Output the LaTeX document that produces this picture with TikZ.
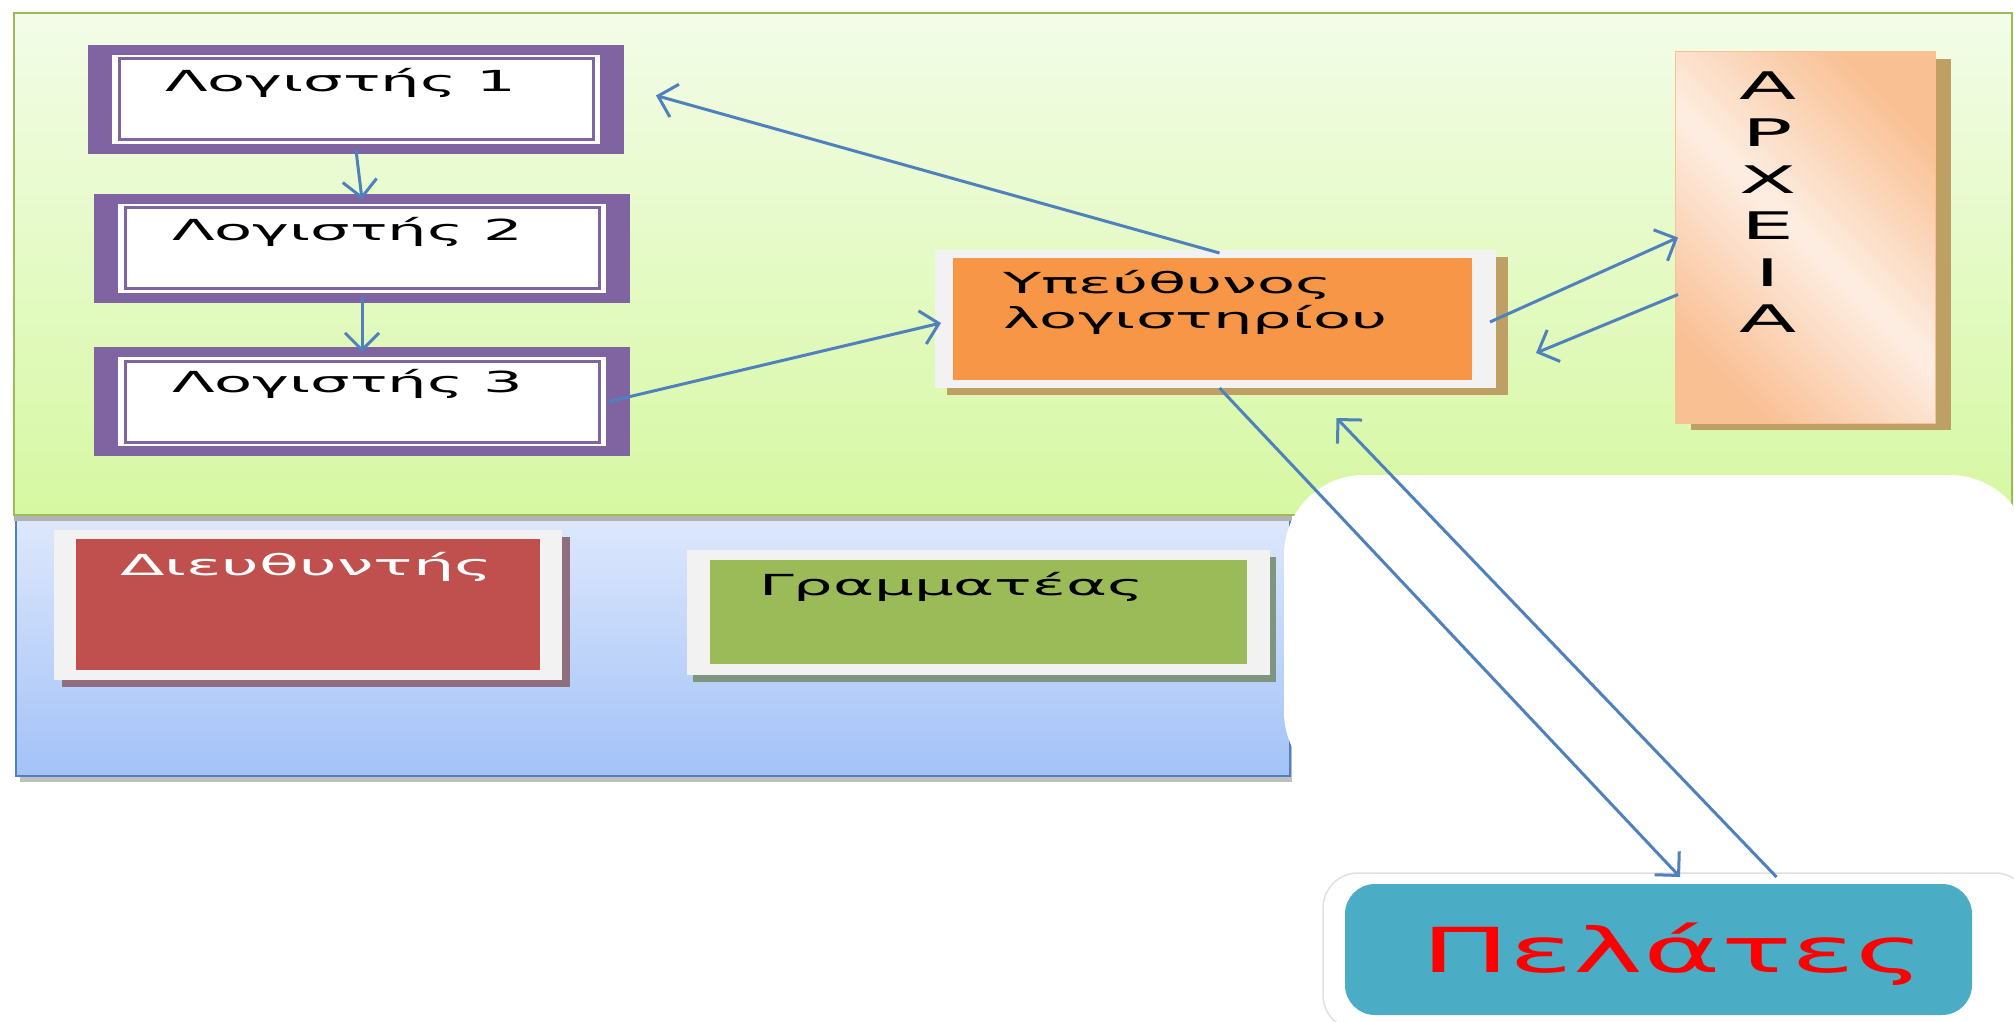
\documentclass[tikz,border=0pt]{standalone}
\usepackage{fontspec}
\setmainfont{DejaVu Sans}
\usepackage{graphicx}
\usetikzlibrary{arrows.meta,shadows}

\definecolor{grnB}{HTML}{9BBB59}
\definecolor{grnT}{HTML}{F3FCE8}
\definecolor{grnBot}{HTML}{D6F8A2}
\definecolor{bluT}{HTML}{DEE8FC}
\definecolor{bluBot}{HTML}{A3C2F7}
\definecolor{bluB}{HTML}{4F81BD}
\definecolor{purp}{HTML}{8064A2}
\definecolor{orng}{HTML}{F79646}
\definecolor{tanS}{HTML}{BFA064}
\definecolor{peachD}{HTML}{F9C094}
\definecolor{peachL}{HTML}{FDEEE2}
\definecolor{redd}{HTML}{C0504D}
\definecolor{olv}{HTML}{9BBB59}
\definecolor{frameC}{HTML}{F2F2F2}
\definecolor{tealC}{HTML}{4BACC6}
\definecolor{arrC}{HTML}{4F81BD}
\definecolor{mauveS}{HTML}{8F6E7E}
\definecolor{grayS}{HTML}{7E967F}

\newcommand\sx[2][2.15]{\scalebox{#1}[1]{#2}}

\tikzset{
  plain/.style={inner sep=0pt, outer sep=0pt},
  lbox/.style={plain, fill=purp, minimum width=536pt, minimum height=109pt,
    path picture={
      \fill[white] ([xshift=24pt,yshift=-10pt]path picture bounding box.north west)
        rectangle ([xshift=-24pt,yshift=10pt]path picture bounding box.south east);
      \draw[purp, line width=3pt] ([xshift=31pt,yshift=-14pt]path picture bounding box.north west)
        rectangle ([xshift=-31pt,yshift=14pt]path picture bounding box.south east);
    }},
  lbl/.style={plain, anchor=base west, font=\fontsize{29}{35}\selectfont},
  arr/.style={draw=arrC, line width=3pt, -{Straight Barb[length=17pt,width=34pt,line width=3pt]}},
}

\begin{document}
\begin{tikzpicture}[x=1pt,y=-1pt]
\useasboundingbox (0,0) rectangle (2014,1022);

% panels
\fill[black!25] (20,522) rectangle (1292,782);
\node[plain, top color=bluT, bottom color=bluBot, draw=bluB, line width=2pt,
  minimum width=1274pt, minimum height=260pt] (bp) at (653,646) {};
\fill[black!30] (14,515) rectangle (1292,521);
\node[plain, top color=grnT, bottom color=grnBot, draw=grnB, line width=2pt,
  minimum width=1998pt, minimum height=502pt] (gp) at (1013,264) {};

% white rounded shape
\node[plain, fill=white, rounded corners=80pt, minimum width=746pt, minimum height=317pt] (ws) at (1657,633.5) {};

% accountants
\node[lbox] (l1) at (356,99.5) {};
\node[lbox] (l2) at (362,248) {};
\node[lbox] (l3) at (362,401.5) {};
\node[lbl] (t1) at (165,92) {\sx{Λογιστής 1}};
\node[lbl] (t2) at (172,240) {\sx{Λογιστής 2}};
\node[lbl] (t3) at (172,392) {\sx{Λογιστής 3}};

% head of accounting
\node[plain, fill=frameC, minimum width=561pt, minimum height=138pt,
  general shadow={fill=tanS, shadow xshift=12pt, shadow yshift=-7pt},
  path picture={\fill[orng] ([xshift=18pt,yshift=-8pt]path picture bounding box.north west)
     rectangle ([xshift=-24pt,yshift=8pt]path picture bounding box.south east);}]
  (yp) at (1215.5,319) {};
\node[plain, anchor=base west, font=\fontsize{29}{35}\selectfont] (ypt) at (1003,293)
  {\sx{\begin{tabular}[t]{@{}l@{}}Υπεύθυνος\\λογιστηρίου\end{tabular}}};

% archives
\node[plain, left color=peachD, right color=peachD, middle color=peachL, shading angle=135,
  draw=peachD, line width=1pt, minimum width=260pt, minimum height=371pt,
  general shadow={fill=tanS, shadow xshift=16pt, shadow yshift=-7pt}] (ar) at (1805,237.5) {};
\node[plain, anchor=base, font=\fontsize{38}{46.6}\selectfont] (art) at (1768,100)
  {\sx[2.2]{\begin{tabular}[t]{@{}c@{}}Α\\Ρ\\Χ\\Ε\\Ι\\Α\end{tabular}}};

% director
\node[plain, fill=frameC, minimum width=508pt, minimum height=150pt,
  general shadow={fill=mauveS, shadow xshift=8pt, shadow yshift=-7pt},
  path picture={\fill[redd] ([xshift=22pt,yshift=-9pt]path picture bounding box.north west)
     rectangle ([xshift=-22pt,yshift=10pt]path picture bounding box.south east);}]
  (dir) at (308,605) {};
\node[lbl, text=white] (dirt) at (120,575) {\sx[2.25]{Διευθυντής}};

% secretary
\node[plain, fill=frameC, minimum width=583pt, minimum height=125pt,
  general shadow={fill=grayS, shadow xshift=6pt, shadow yshift=-7pt},
  path picture={\fill[olv] ([xshift=23pt,yshift=-10pt]path picture bounding box.north west)
     rectangle ([xshift=-23pt,yshift=11pt]path picture bounding box.south east);}]
  (gr) at (978.5,612.5) {};
\node[lbl] (grt) at (759,595) {\sx{Γραμματέας}};

% clients
\node[plain, fill=white, draw=black!12, line width=1.5pt, rounded corners=35pt,
  minimum width=707pt, minimum height=157pt,
  path picture={\fill[tealC, rounded corners=30pt] ([xshift=22pt,yshift=-11pt]path picture bounding box.north west)
     rectangle ([xshift=-58pt,yshift=15pt]path picture bounding box.south east);}]
  (pe) at (1676.5,951.5) {};
\node[plain, anchor=base, text=red, font=\fontsize{62}{70}\selectfont] (pet) at (1673,972) {\sx[1.9]{Πελάτες}};

% connectors
\draw[arr] ([yshift=4pt]l1.south) -- ([yshift=-6pt]l2.north);
\draw[arr] ([yshift=6pt]l2.south) -- ([yshift=-5pt]l3.north);
\draw[arr] ([xshift=-21pt]l3.east) -- ([xshift=6pt,yshift=-4pt]yp.west);
\draw[arr] ([xshift=4pt,yshift=-3pt]yp.north) -- ([xshift=32pt,yshift=4pt]l1.east);
\draw[arr] ([xshift=-6pt,yshift=-3pt]yp.east) -- ([xshift=3pt]ar.west);
\draw[arr] ([xshift=3pt,yshift=-57pt]ar.west) -- ([xshift=40pt,yshift=-34pt]yp.east);
\draw[arr] ([xshift=4pt]yp.south) -- ([xshift=3.5pt,yshift=-4pt]pe.north);
\draw[arr] ([xshift=100pt,yshift=-4pt]pe.north) -- ([xshift=121pt,yshift=-30pt]yp.south);
\end{tikzpicture}
\end{document}
